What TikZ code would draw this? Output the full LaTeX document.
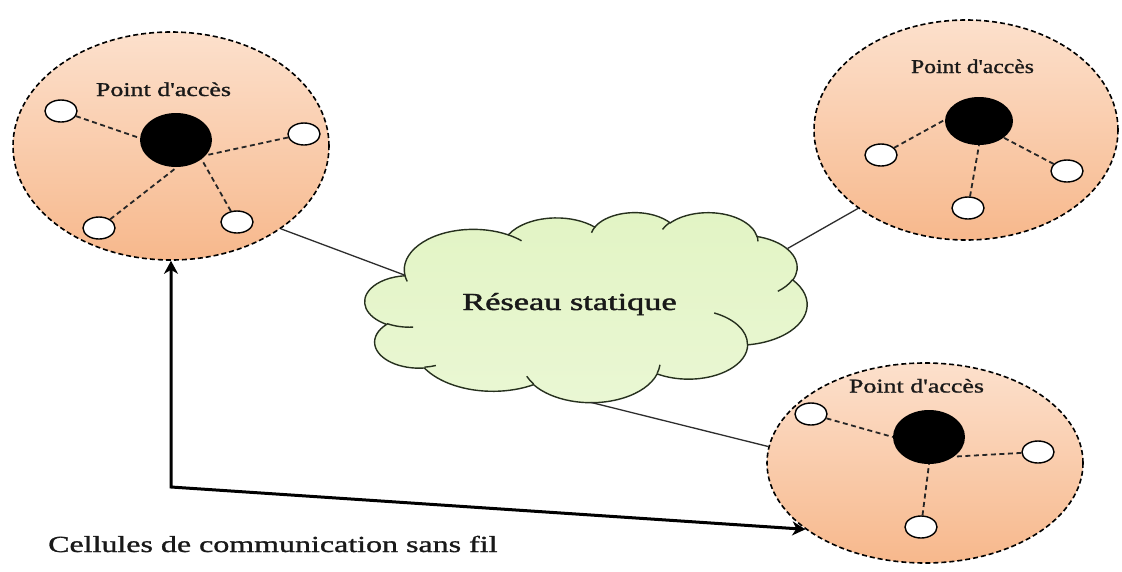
\documentclass[tikz,border=0pt]{standalone}
\usepackage{fontspec}
\setmainfont{Liberation Serif}[Ligatures={TeXOff,NoCommon}]
\newfontfamily\labelfont{Liberation Serif}[Ligatures={TeXOff,NoCommon},FakeBold=1.0]
\newfontfamily\netfont{Liberation Serif}[Ligatures={TeXOff,NoCommon},FakeBold=1.4]
\usepackage{graphicx}
\usetikzlibrary{shapes.geometric,arrows.meta}

\definecolor{peachtop}{RGB}{252,224,204}
\definecolor{peachbot}{RGB}{247,184,140}
\definecolor{cloudtop}{RGB}{226,244,196}
\definecolor{cloudbot}{RGB}{234,247,212}
\definecolor{cloudline}{RGB}{38,48,30}
\definecolor{linkgray}{RGB}{45,45,45}

\tikzset{
  % elliptic arc given by radii, start angle and sweep measured as seen (not parametric)
  ooarc/.style n args={4}{insert path={
    arc[x radius=#1, y radius=#2,
        start angle={atan2((#1)*sin(#3),(#2)*cos(#3))},
        delta angle={mod(atan2((#1)*sin((#3)+(#4)),(#2)*cos((#3)+(#4)))-atan2((#1)*sin(#3),(#2)*cos(#3))+720,360)}]}},
  cell/.style 2 args={ellipse, inner sep=0pt, minimum width=#1, minimum height=#2,
    draw=black, line width=1.6pt, dash pattern=on 5pt off 3pt,
    top color=peachtop, bottom color=peachbot},
  station/.style={ellipse, draw=black, line width=1.4pt, fill=white, inner sep=0pt,
    minimum width=32pt, minimum height=22pt},
  apdot/.style 2 args={ellipse, fill=black, inner sep=0pt, minimum width=#1, minimum height=#2},
  spoke/.style={draw=black!85, line width=1.8pt, dash pattern=on 5pt off 3.5pt},
  link/.style={draw=linkgray, line width=1.3pt},
  dbl/.style={draw=black, line width=3pt,
    {Stealth[length=13pt,width=14pt,inset=4pt]}-{Stealth[length=13pt,width=14pt,inset=4pt]}},
  cloudfill/.style={draw=cloudline, line width=1.4pt, top color=cloudtop, bottom color=cloudbot},
  cloudedge/.style={draw=cloudline, line width=1.4pt},
  aplabel/.style={inner sep=0pt, anchor=base, text=black!90, font=\labelfont\fontsize{19.5pt}{22pt}\selectfont},
  netlabel/.style={inner sep=0pt, anchor=base, text=black!90, font=\netfont\fontsize{24.5pt}{28pt}\selectfont},
  capt/.style={inner sep=0pt, anchor=base west, text=black!90, font=\labelfont\fontsize{23pt}{26pt}\selectfont}
}

\begin{document}
\begin{tikzpicture}[x=1pt,y=-1pt]
\useasboundingbox[fill=white] (0,0) rectangle (1122,571);

% the static network cloud
\begin{scope}[shift={(365,212)}, x=1.0231pt, y=-0.4398pt]
  \draw[cloudfill] (39.00,143.70)
    [ooarc={67.53}{91.90}{-190.4875}{123.7805}]
    [ooarc={53.33}{72.67}{-144.1024}{89.9452}]
    [ooarc={43.65}{59.45}{-145.8079}{99.7230}]
    [ooarc={48.57}{65.95}{-130.9861}{117.2417}]
    [ooarc={53.33}{72.73}{-78.7089}{109.0269}]
    [ooarc={67.75}{92.20}{-46.2673}{130.2690}]
    [ooarc={57.85}{78.67}{0.6250}{114.0333}]
    [ooarc={67.52}{92.15}{22.4516}{115.1726}]
    [ooarc={77.20}{105.43}{66.2426}{75.7110}]
    [ooarc={43.60}{59.18}{-274.9421}{146.7356}]
    [ooarc={43.45}{59.45}{-246.8285}{152.5189}]
    -- cycle;
  \draw[cloudedge] (46.93,261.77) [ooarc={43.45}{59.45}{86.7420}{26.4295}];
  \draw[cloudedge] (69.28,348.99) [ooarc={43.60}{59.18}{73.6105}{11.4475}];
  \draw[cloudedge] (164.78,390.90) [ooarc={67.52}{92.15}{137.6242}{14.0811}];
  \draw[cloudedge] (288.27,347.51) [ooarc={67.52}{92.15}{6.4533}{15.9984}];
  \draw[cloudedge] (341.29,229.54) [ooarc={57.85}{78.67}{-70.2924}{70.9174}];
  \draw[cloudedge] (417.98,153.54) [ooarc={53.33}{72.73}{30.3180}{27.7515}];
  \draw[cloudedge] (383.24,54.26) [ooarc={48.57}{65.95}{-13.7443}{14.8589}];
  \draw[cloudedge] (290.78,39.52) [ooarc={48.57}{65.95}{-149.1815}{18.1954}];
  \draw[cloudedge] (221.41,47.20) [ooarc={43.65}{59.45}{-163.4943}{17.6864}];
  \draw[cloudedge] (140.00,51.92) [ooarc={67.53}{91.90}{-66.7070}{12.3194}];
  \draw[cloudedge] (41.27,157.89) [ooarc={67.53}{91.90}{157.6544}{11.8582}];
  \coordinate (cl-w) at (39.00,143.70);
  \coordinate (cl-e) at (413,83);
  \coordinate (cl-s) at (221,433);
\end{scope}
\node[netlabel] (net) at (569.5,310) {\scalebox{1.4}[1]{Réseau statique}};

% wireless cells
\node[cell={316pt}{228pt}] (cell1) at (171,146) {};
\node[cell={304pt}{220pt}] (cell2) at (966,130) {};
\node[cell={316pt}{200pt}] (cell3) at (925,463) {};

% links to the static network
\draw[link] (cl-w) -- (cell1.-37);
\draw[link] (cl-e) -- (cell2.-144);
\draw[link] (cl-s) -- (cell3.174);

% cell 1
\node[aplabel] (lab1) at (163.5,96) {\scalebox{1.33}[1]{Point d'accès}};
\node[apdot={72pt}{54pt}] (ap1) at (176,140) {};
\node[station] (s1a) at (61,111) {};
\node[station] (s1b) at (304,134) {};
\node[station] (s1c) at (99,228) {};
\node[station] (s1d) at (237,222) {};
\draw[spoke] (s1a) -- (ap1.177);
\draw[spoke] (s1b) -- (ap1.-27);
\draw[spoke] (s1c) -- (ap1.-88);
\draw[spoke] (s1d) -- (ap1.-37);

% cell 2
\node[aplabel] (lab2) at (972.5,73) {\scalebox{1.21}[1]{Point d'accès}};
\node[apdot={68pt}{48pt}] (ap2) at (979,121) {};
\node[station] (s2a) at (881,155) {};
\node[station] (s2b) at (1067,171) {};
\node[station] (s2c) at (968,208) {};
\draw[spoke] (s2a) -- (ap2.178);
\draw[spoke] (s2b) -- (ap2.-34);
\draw[spoke] (s2c) -- (ap2.-90);

% cell 3
\node[aplabel] (lab3) at (916.5,392.5) {\scalebox{1.33}[1]{Point d'accès}};
\node[apdot={72pt}{54pt}] (ap3) at (929,437) {};
\node[station] (s3a) at (811,414) {};
\node[station] (s3b) at (1038,452) {};
\node[station] (s3c) at (921,527) {};
\draw[spoke] (s3a) -- (ap3.180);
\draw[spoke] (s3b) -- (ap3.-38);
\draw[spoke] (s3c) -- (ap3.-90);

% communication between cells
\coordinate (bend) at (171,487);
\draw[dbl] (cell1.south) -- (bend) -- (cell3.-151);

\node[capt] (cap) at (48,552) {\scalebox{1.39}[1]{Cellules de communication sans fil}};
\end{tikzpicture}
\end{document}
